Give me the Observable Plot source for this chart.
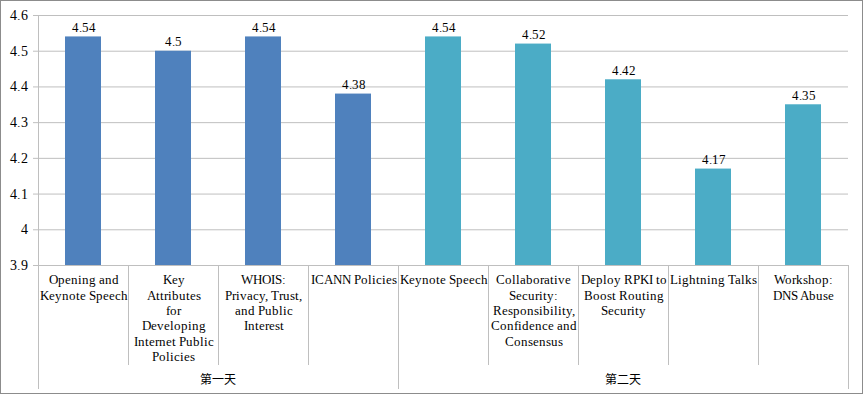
<!DOCTYPE html>
<html>
<head>
<meta charset="utf-8">
<script src="https://cdn.jsdelivr.net/npm/d3@7"></script>
<script src="https://cdn.jsdelivr.net/npm/@observablehq/plot@0.6"></script>
<style>
  @font-face {
    font-family: "ChartSerif";
    src: local("Liberation Serif"), local("LiberationSerif"), local("LiberationSerif-Regular"),
         local("Times New Roman"), local("DejaVu Serif"), local("DejaVuSerif");
  }
  html, body { margin: 0; padding: 0; background: #fff; }
  #chart svg { display: block; }
  #chart svg text, #chart svg tspan { font-family: "ChartSerif", "Liberation Serif", "Times New Roman", "DejaVu Serif", serif !important; }
  #chart svg text.cjk { font-family: "Noto Sans CJK SC", sans-serif !important; }
</style>
</head>
<body>
<div id="chart"></div>
<script>
// ---- data ----
const categories = [
  "Opening and\nKeynote Speech",
  "Key\nAttributes\nfor\nDeveloping\nInternet Public\nPolicies",
  "WHOIS:\nPrivacy, Trust,\nand Public\nInterest",
  "ICANN Policies",
  "Keynote Speech",
  "Collaborative\nSecurity:\nResponsibility,\nConfidence and\nConsensus",
  "Deploy RPKI to\nBoost Routing\nSecurity",
  "Lightning Talks",
  "Workshop:\nDNS Abuse"
];
const values = [4.54, 4.5, 4.54, 4.38, 4.54, 4.52, 4.42, 4.17, 4.35];
const dayOf = ["第一天", "第一天", "第一天", "第一天", "第二天", "第二天", "第二天", "第二天", "第二天"];
const dayLabels = ["第一天", "第二天"];
const dayColors = ["#4F81BD", "#4BACC6"];
const yTicks = [3.9, 4.0, 4.1, 4.2, 4.3, 4.4, 4.5, 4.6];
const yTickLabels = ["3.9", "4", "4.1", "4.2", "4.3", "4.4", "4.5", "4.6"];

const data = categories.map((name, i) => ({name, value: values[i], day: dayOf[i]}));
const yMin = yTicks[0];
const grid = "#bfbfbf";
const serif = "ChartSerif";

const chart = Plot.plot({
  width: 864,
  height: 395,
  marginLeft: 38,
  marginRight: 16,
  marginTop: 15,
  marginBottom: 130,
  style: {fontSize: "14px", color: "#000", background: "#fff"},
  x: {domain: categories, padding: 0, axis: null},
  y: {
    domain: [yTicks[0], yTicks[yTicks.length - 1]],
    ticks: yTicks,
    tickFormat: d => yTickLabels[yTicks.indexOf(d)] ?? String(d),
    tickSize: 5,
    tickPadding: 6,
    label: null
  },
  color: {domain: dayLabels, range: dayColors},
  marks: [
    Plot.ruleY(yTicks, {stroke: grid, strokeWidth: 1}),
    Plot.barY(data, {x: "name", y1: () => yMin, y2: "value", fill: "day", insetLeft: 27, insetRight: 27}),
    Plot.text(data, {x: "name", y: "value", text: d => String(d.value), dy: -5, lineAnchor: "bottom", fontSize: 13.3, fontFamily: serif, fill: "#000"}),
    Plot.text(data, {x: "name", y: () => yMin, text: "name", lineAnchor: "top", dy: 8, lineHeight: 1.15, fontSize: 13.3, fontFamily: serif, fill: "#000"})
  ]
});

document.getElementById("chart").appendChild(chart);

// ---- decorations derived from the Plot scales ----
const svg = d3.select(chart);
svg.selectAll('g[aria-label^="y-axis"] path, g[aria-label^="y-axis"] line').attr("stroke", grid);
svg.selectAll('g[aria-label^="y-axis"] text').attr("font-size", 14).attr("fill", "#000");

const sx = chart.scale("x");
const sy = chart.scale("y");
const x0 = sx.range[0], x1 = sx.range[1];
const step = (x1 - x0) / sx.domain.length;
const yBase = sy.range[0];   // pixel of 3.9
const yTop = sy.range[1];    // pixel of 4.6
const catBottom = yBase + 100;
const groupBottom = yBase + 124;

// group boundaries
const bounds = [0];
let acc = 0;
dayLabels.forEach(g => { acc += dayOf.filter(d => d === g).length; bounds.push(acc); });

const deco = svg.append("g").attr("stroke", grid).attr("stroke-width", 1);
for (let i = 0; i <= sx.domain.length; i++) {
  const x = Math.round(x0 + i * step) + 0.5;
  const isGroup = bounds.includes(i);
  deco.append("line")
    .attr("x1", x).attr("x2", x)
    .attr("y1", i === 0 ? yTop : yBase)
    .attr("y2", isGroup ? groupBottom : catBottom);
}
deco.append("line")
  .attr("x1", x0).attr("x2", x1)
  .attr("y1", Math.round(yBase) + 0.5).attr("y2", Math.round(yBase) + 0.5);

// group labels
dayLabels.forEach((g, k) => {
  const cx = x0 + (bounds[k] + bounds[k + 1]) / 2 * step;
  svg.append("text")
    .attr("class", "cjk")
    .attr("x", cx).attr("y", yBase + 116)
    .attr("text-anchor", "middle")
    .attr("dominant-baseline", "middle")
    .attr("font-size", 12)
    .attr("fill", "#000")
    .text(g);
});

// outer border
svg.append("rect")
  .attr("x", 0.5).attr("y", 0.5)
  .attr("width", 862).attr("height", 393)
  .attr("fill", "none").attr("stroke", "#8c8c8c");
</script>
</body>
</html>
